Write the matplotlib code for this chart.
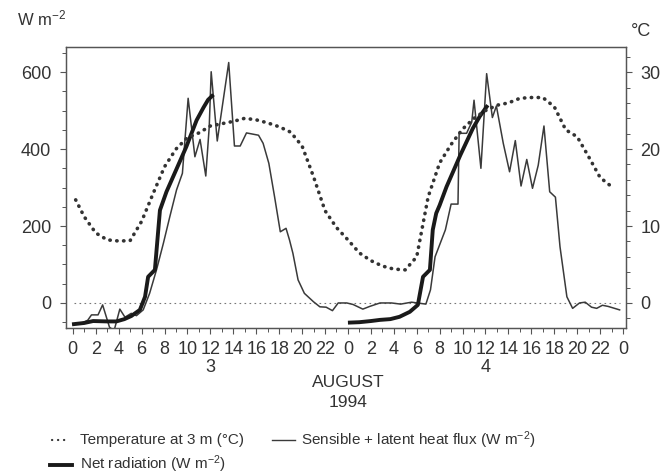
import numpy as np
import matplotlib
matplotlib.use("Agg")
from matplotlib import pyplot as plt
from matplotlib.ticker import MultipleLocator
from matplotlib.lines import Line2D
import matplotlib.transforms as mtransforms

plt.rcParams['font.family'] = ['Liberation Sans', 'DejaVu Sans']
plt.rcParams['mathtext.default'] = 'regular'

# hours since 0h on 3 August 1994
temp_hours = [0.25, 1, 2, 3, 4, 5, 6, 7, 8, 9, 10, 11, 12, 13, 14, 15, 16, 17, 18,
              19, 20, 21, 22, 23, 24, 25, 26, 27, 28, 29, 30, 31, 32, 33, 34, 35,
              36, 37, 38, 39, 40, 41, 42, 43, 44, 45, 46, 47.1]
temp_values = [13.4, 11.2, 9.1, 8.2, 8.05, 8.1, 10.6, 14.2, 17.7, 20.0, 21.5, 22.1,
               23.0, 23.3, 23.6, 24.0, 23.8, 23.4, 22.9, 22.2, 20.4, 16.4, 12.0, 9.8,
               8.2, 6.5, 5.5, 4.8, 4.4, 4.3, 6.0, 13.8, 18.2, 20.6, 22.6, 24.0, 25.0,
               25.7, 26.0, 26.6, 26.7, 26.7, 25.5, 22.5, 21.6, 19.0, 16.3, 15.0]

flux_hours = [0.1, 0.8, 1.3, 1.63, 2.2, 2.6, 3.2, 3.6, 4.1, 4.55, 5.1, 5.55, 6.14,
              6.7, 7.3, 7.9, 8.46, 9.05, 9.56, 10.06, 10.65, 11.1, 11.6, 11.9, 12.07,
              12.6, 13.6, 14.1, 14.6, 15.15, 16.2, 16.6, 17.1, 17.6, 18.1, 18.6, 18.9,
              19.2, 19.65, 20.2, 21.0, 21.55, 22.1, 22.65, 23.15, 23.9, 24.45, 25.3,
              25.9, 26.8, 27.8, 28.6, 29.55, 30.8, 31.2, 31.6, 32.5, 33.0, 33.6, 33.7,
              34.35, 34.8, 35.0, 35.6, 36.1, 36.6, 36.95, 37.55, 38.1, 38.6, 39.1,
              39.6, 40.1, 40.6, 41.1, 41.6, 42.1, 42.5, 43.1, 43.6, 44.2, 44.7, 45.25,
              45.7, 46.2, 46.7, 47.7]
flux_values = [-55, -52, -45, -31, -31, -5, -63, -72, -16, -37, -27, -33, -18,
               25, 86, 155, 224, 294, 337, 532, 380, 425, 330, 458, 601,
               421, 625, 408, 408, 442, 436, 415, 363, 276, 185, 194, 164,
               129, 60, 25, 3, -10, -11, -20, 0, 0, -4, -16,
               -9, 0, 0, -3, 2, -3, 34, 120, 190, 257, 257, 441,
               441, 470, 527, 350, 596, 482, 512, 415, 341, 422, 304,
               373, 298, 358, 460, 289, 275, 146, 16, -14, 0, 2, -11,
               -14, -6, -9, -18]

netrad_day3_hours = [0.1, 1.0, 1.77, 3.0, 3.8, 4.5, 5.1, 5.85, 6.3, 6.57, 7.16, 7.6,
                     8.17, 9.0, 9.9, 10.8, 11.4, 11.8, 12.15]
netrad_day3_values = [-55, -52, -47, -48, -48, -42, -34, -18, 16, 68, 86, 241,
                      289, 345, 406, 475, 508, 528, 538]
netrad_day4_hours = [24.17, 25.0, 26.0, 26.8, 27.7, 28.5, 29.4, 30.1, 30.55, 31.15,
                     31.4, 31.7, 32.0, 32.6, 33.8, 34.9, 35.5, 36.1]
netrad_day4_values = [-51, -50, -47, -44, -42, -36, -23, -5, 68, 86,
                      190, 233, 254, 302, 384, 454, 485, 510]

hour_ticks = list(range(0, 49, 2))
hour_labels = [str(h % 24) for h in hour_ticks]
day_labels = ['3', '4']
day_centres = [12, 36]

txt = '#333333'

fig = plt.figure(figsize=(6.66, 4.76), dpi=100)
ax = fig.add_axes([0.099, 0.311, 0.841, 0.59])
ax2 = ax.twinx()

ax.axhline(0, color='#777777', lw=0.8, ls=(0, (1.5, 3)), xmin=0.015, xmax=0.99)
ax.plot(flux_hours, flux_values, color='#3a3a3a', lw=1.1)
ax.plot(netrad_day3_hours, netrad_day3_values, color='#1a1a1a', lw=2.8)
ax.plot(netrad_day4_hours, netrad_day4_values, color='#1a1a1a', lw=2.8)
ax2.plot(temp_hours, temp_values, color='#333333', lw=2.6,
         ls=(0, (0.1, 1.8)), dash_capstyle='round')

ax.set_xlim(-0.6, 48.26)
ax.set_ylim(-65, 665)
ax2.set_ylim(-3.25, 33.25)

ax.set_xticks(hour_ticks)
ax.set_xticklabels(hour_labels)
ax.xaxis.set_minor_locator(MultipleLocator(1))
ax.set_yticks([0, 200, 400, 600])
ax.yaxis.set_minor_locator(MultipleLocator(50))
ax2.set_yticks([0, 10, 20, 30])
ax2.yaxis.set_minor_locator(MultipleLocator(2))

for a in (ax, ax2):
    a.tick_params(which='major', length=4.5, width=0.8, color='#555555',
                  labelsize=13, labelcolor=txt, pad=6)
    a.tick_params(which='minor', length=2.8, width=0.7, color='#555555')
    for s in a.spines.values():
        s.set_color('#555555')
        s.set_linewidth(0.9)
ax.tick_params(axis='x', which='major', pad=5)

trans = mtransforms.blended_transform_factory(ax.transData, fig.transFigure)
for d, c in zip(day_labels, day_centres):
    fig.text(c, 0.228, d, transform=trans, ha='center', va='center',
             fontsize=13, color=txt)
fig.text(24, 0.197, 'AUGUST', transform=trans, ha='center', va='center',
         fontsize=12.5, color=txt)
fig.text(24, 0.154, '1994', transform=trans, ha='center', va='center',
         fontsize=12.5, color=txt)

fig.text(0.063, 0.962, 'W m$^{-2}$', ha='center', va='center', fontsize=12, color=txt)
fig.text(0.962, 0.933, '°C', ha='center', va='center', fontsize=13, color=txt)

# legend, laid out by hand below the axes
row1, row2 = 0.076, 0.024
fig.add_artist(Line2D([0.078, 0.104], [row1, row1], color='#333333', lw=1.6,
                      ls=(0, (0.1, 2.6)), dash_capstyle='round'))
fig.add_artist(Line2D([0.075, 0.108], [row2, row2], color='#1a1a1a', lw=2.8))
fig.add_artist(Line2D([0.408, 0.443], [row1, row1], color='#3a3a3a', lw=1.0))
leg_kw = dict(ha='left', va='center', fontsize=11, color=txt)
fig.text(0.120, row1, 'Temperature at 3 m (°C)', **leg_kw)
fig.text(0.120, row2, 'Net radiation (W m$^{-2}$)', **leg_kw)
fig.text(0.452, row1, 'Sensible + latent heat flux (W m$^{-2}$)', **leg_kw)

fig.savefig('out.png', dpi=100)
